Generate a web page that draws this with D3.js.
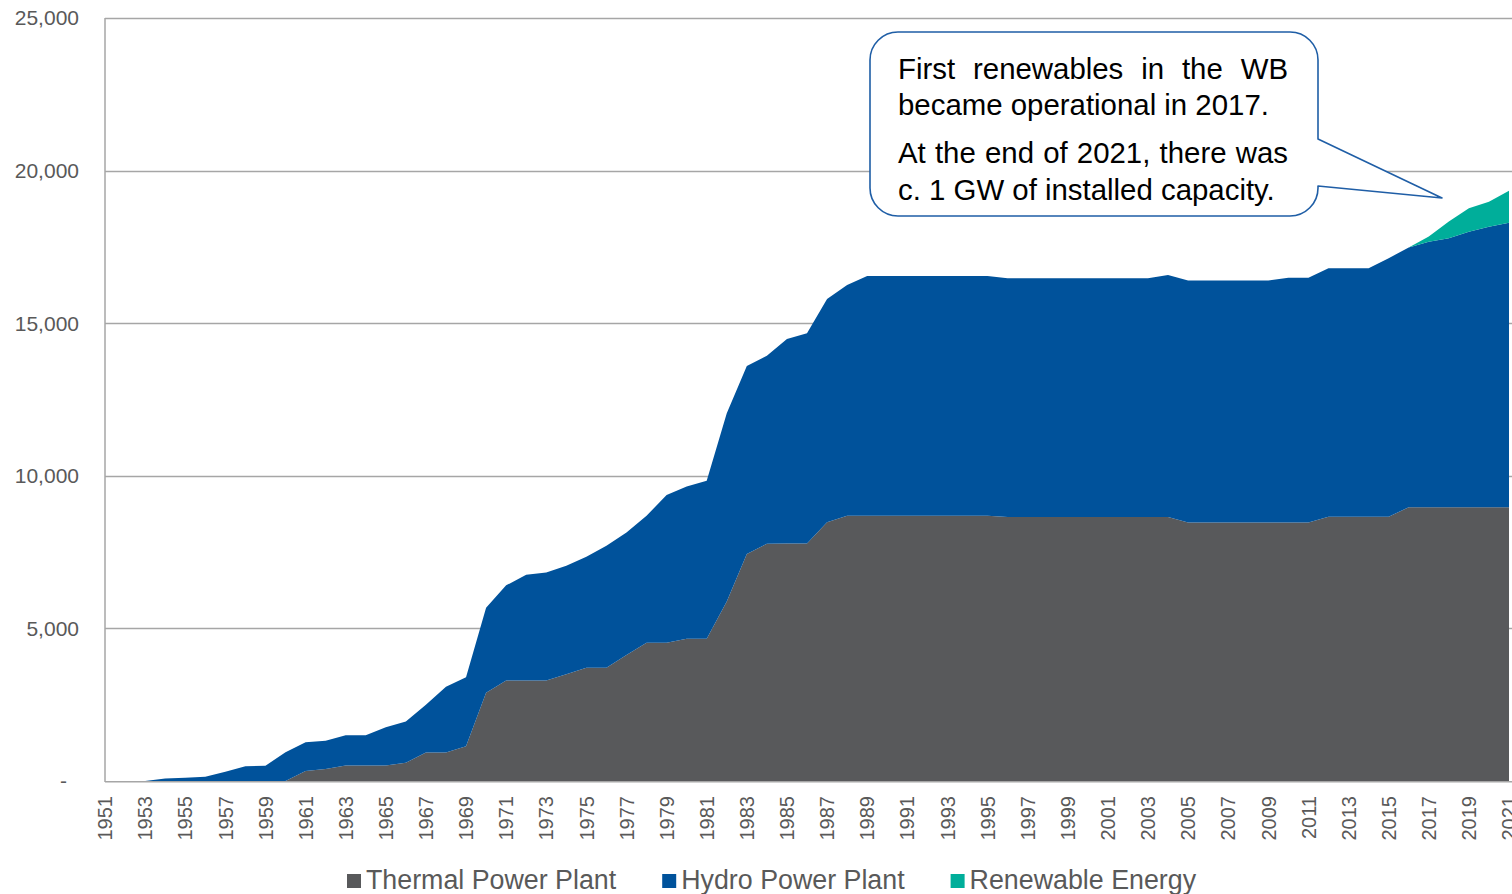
<!DOCTYPE html>
<html>
<head>
<meta charset="utf-8">
<script src="https://cdn.jsdelivr.net/npm/d3@7"></script>
<style>
  body { margin: 0; background: #ffffff; }
  svg { display: block; font-family: "Liberation Sans", Arial, sans-serif; }
</style>
</head>
<body>
<svg id="chart" width="1512" height="894"></svg>
<script>
// Installed generation capacity (MW) by year and technology
const years = [
  1951, 1952, 1953, 1954, 1955, 1956, 1957, 1958, 1959, 1960,
  1961, 1962, 1963, 1964, 1965, 1966, 1967, 1968, 1969, 1970,
  1971, 1972, 1973, 1974, 1975, 1976, 1977, 1978, 1979, 1980,
  1981, 1982, 1983, 1984, 1985, 1986, 1987, 1988, 1989, 1990,
  1991, 1992, 1993, 1994, 1995, 1996, 1997, 1998, 1999, 2000,
  2001, 2002, 2003, 2004, 2005, 2006, 2007, 2008, 2009, 2010,
  2011, 2012, 2013, 2014, 2015, 2016, 2017, 2018, 2019, 2020,
  2021
];

const thermal = [
  0, 0, 0, 0, 0, 0, 0, 0, 0, 0,
  330, 390, 510, 510, 510, 600, 930, 930, 1140, 2890,
  3290, 3290, 3290, 3500, 3710, 3710, 4130, 4530, 4530, 4660,
  4660, 5880, 7440, 7770, 7780, 7780, 8480, 8690, 8690, 8690,
  8690, 8690, 8690, 8690, 8690, 8650, 8650, 8650, 8650, 8650,
  8650, 8650, 8650, 8650, 8470, 8470, 8470, 8470, 8470, 8470,
  8470, 8660, 8660, 8660, 8660, 8970, 8970, 8970, 8970, 8970,
  8970
];

const hydro = [
  0, 0, 0, 80, 110, 140, 300, 480, 500, 940,
  940, 930, 990, 990, 1250, 1350, 1570, 2160, 2260, 2790,
  3120, 3470, 3540, 3550, 3640, 4000, 4010, 4160, 4840, 4990,
  5180, 6170, 6160, 6160, 6700, 6890, 7310, 7560, 7860, 7860,
  7860, 7860, 7860, 7860, 7860, 7820, 7820, 7820, 7820, 7820,
  7820, 7820, 7820, 7930, 7930, 7930, 7930, 7930, 7930, 8020,
  8020, 8140, 8140, 8140, 8470, 8510, 8700, 8810, 9030, 9190,
  9320
];

const renewable = [
  0, 0, 0, 0, 0, 0, 0, 0, 0, 0,
  0, 0, 0, 0, 0, 0, 0, 0, 0, 0,
  0, 0, 0, 0, 0, 0, 0, 0, 0, 0,
  0, 0, 0, 0, 0, 0, 0, 0, 0, 0,
  0, 0, 0, 0, 0, 0, 0, 0, 0, 0,
  0, 0, 0, 0, 0, 0, 0, 0, 0, 0,
  0, 0, 0, 0, 0, 0, 170, 550, 770, 820,
  1050
];

const seriesKeys = ["thermal", "hydro", "renewable"];
const seriesNames = ["Thermal Power Plant", "Hydro Power Plant", "Renewable Energy"];
const seriesColors = ["#58595b", "#00529b", "#00ae9a"];

const yTicks = [0, 5000, 10000, 15000, 20000, 25000];
const yTickLabels = ["-", "5,000", "10,000", "15,000", "20,000", "25,000"];
const xTickYears = [
  1951, 1953, 1955, 1957, 1959, 1961, 1963, 1965, 1967, 1969,
  1971, 1973, 1975, 1977, 1979, 1981, 1983, 1985, 1987, 1989,
  1991, 1993, 1995, 1997, 1999, 2001, 2003, 2005, 2007, 2009,
  2011, 2013, 2015, 2017, 2019, 2021
];

const noteParagraphs = [
  ["First renewables in the WB", "became operational in 2017."],
  ["At the end of 2021, there was", "c. 1 GW of installed capacity."]
];

// ---------------------------------------------------------------
const svg = d3.select("#chart");
const axisColor = "#a6a6a6";
const labelColor = "#595959";

const x = d3.scaleLinear().domain([1951, 2021]).range([105, 1509]);
const y = d3.scaleLinear().domain([0, 25000]).range([781, 18]);

const rows = years.map((yr, i) => ({
  year: yr, thermal: thermal[i], hydro: hydro[i], renewable: renewable[i]
}));
const stacked = d3.stack().keys(seriesKeys)(rows);

// horizontal gridlines
svg.append("g")
  .selectAll("line")
  .data(yTicks.filter(v => v > 0))
  .join("line")
  .attr("x1", x(1951)).attr("x2", 1512)
  .attr("y1", d => Math.round(y(d)) + 0.5).attr("y2", d => Math.round(y(d)) + 0.5)
  .attr("stroke", axisColor).attr("stroke-width", 1.5);

// stacked areas
const area = d3.area()
  .x(d => x(d.data.year))
  .y0(d => y(d[0]))
  .y1(d => y(d[1]));

svg.append("g")
  .selectAll("path")
  .data(stacked)
  .join("path")
  .attr("fill", (d, i) => seriesColors[i])
  .attr("d", s => {
    const vals = s.map(d => d[1] - d[0]);
    return area.defined((d, i) =>
      vals[i] > 0 || (i > 0 && vals[i - 1] > 0) || (i < vals.length - 1 && vals[i + 1] > 0)
    )(s);
  });

// axis lines
svg.append("line")
  .attr("x1", x(1951)).attr("x2", x(1951))
  .attr("y1", y(25000)).attr("y2", y(0) + 1)
  .attr("stroke", axisColor).attr("stroke-width", 1.5);
svg.append("line")
  .attr("x1", x(1951)).attr("x2", 1512)
  .attr("y1", y(0) + 0.75).attr("y2", y(0) + 0.75)
  .attr("stroke", axisColor).attr("stroke-width", 1.5);

// y tick labels
svg.append("g")
  .selectAll("text")
  .data(yTicks)
  .join("text")
  .attr("x", (d, i) => i === 0 ? 67 : 79)
  .attr("y", d => y(d))
  .attr("dy", "0.35em")
  .attr("text-anchor", "end")
  .attr("font-size", 21)
  .attr("fill", labelColor)
  .text((d, i) => yTickLabels[i]);

// x tick labels (vertical)
svg.append("g")
  .selectAll("text")
  .data(xTickYears)
  .join("text")
  .attr("transform", d => `translate(${x(d)},796) rotate(-90)`)
  .attr("dy", "0.36em")
  .attr("text-anchor", "end")
  .attr("font-size", 20)
  .attr("fill", labelColor)
  .text(d => d);

// legend
const legend = svg.append("g");
let lx = 347;
seriesNames.forEach((name, i) => {
  legend.append("rect")
    .attr("x", lx).attr("y", 874).attr("width", 14).attr("height", 14)
    .attr("fill", seriesColors[i]);
  const t = legend.append("text")
    .attr("x", lx + 19).attr("y", 889)
    .attr("font-size", 26.8)
    .attr("fill", labelColor)
    .text(name);
  lx += 19 + t.node().getComputedTextLength() + 46;
});

// callout bubble
const bx0 = 870, bx1 = 1318, by0 = 32, by1 = 216, r = 28;
const tip = [1442, 198];
const calloutPath = [
  `M${bx0 + r},${by0}`,
  `H${bx1 - r}`,
  `A${r},${r} 0 0 1 ${bx1},${by0 + r}`,
  `V139`,
  `L${tip[0]},${tip[1]}`,
  `L${bx1},186`,
  `V${by1 - r}`,
  `A${r},${r} 0 0 1 ${bx1 - r},${by1}`,
  `H${bx0 + r}`,
  `A${r},${r} 0 0 1 ${bx0},${by1 - r}`,
  `V${by0 + r}`,
  `A${r},${r} 0 0 1 ${bx0 + r},${by0}`,
  "Z"
].join(" ");
svg.append("path")
  .attr("d", calloutPath)
  .attr("fill", "#ffffff")
  .attr("stroke", "#1f5ea6")
  .attr("stroke-width", 1.6)
  .attr("stroke-linejoin", "round");

// callout text, justified except for each paragraph's last line
const note = svg.append("g").attr("font-size", 29.4).attr("fill", "#000000");
const textLeft = 898, textRight = 1288;
const baselines = [[79, 115], [163, 200]];
noteParagraphs.forEach((lines, p) => {
  lines.forEach((line, j) => {
    const base = baselines[p][j];
    const isLast = j === lines.length - 1;
    if (isLast) {
      note.append("text").attr("x", textLeft).attr("y", base).text(line);
      return;
    }
    const words = line.split(" ");
    const nodes = words.map(w => note.append("text").attr("y", base).text(w));
    const widths = nodes.map(n => n.node().getComputedTextLength());
    const gap = (textRight - textLeft - d3.sum(widths)) / (words.length - 1);
    let cx = textLeft;
    nodes.forEach((n, k) => {
      n.attr("x", cx);
      cx += widths[k] + gap;
    });
  });
});
</script>
</body>
</html>
